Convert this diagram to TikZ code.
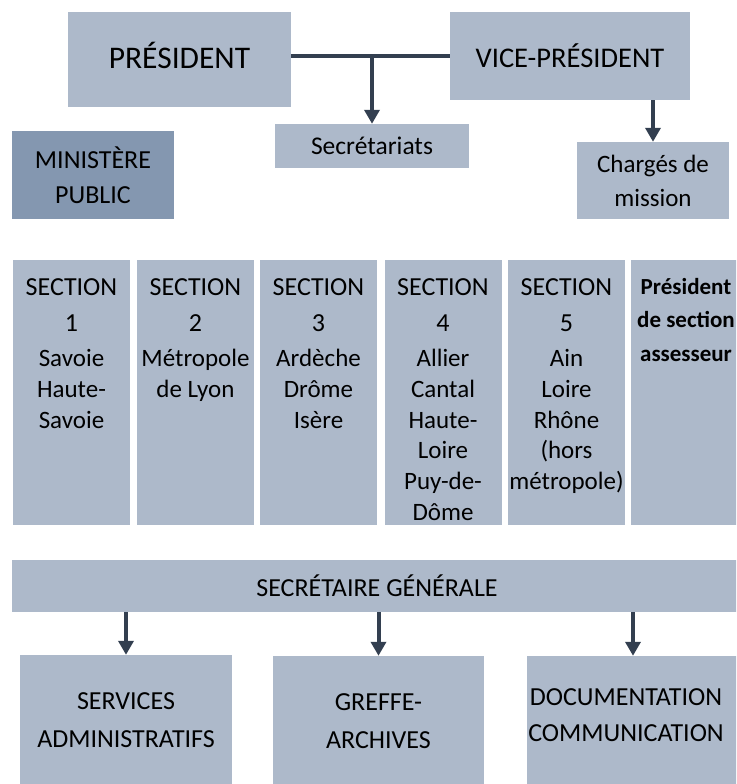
\documentclass[tikz,border=0pt]{standalone}
\usepackage{fontspec}
\setmainfont{Carlito}
\usepackage{xcolor}
\usetikzlibrary{calc, positioning, arrows.meta}
\definecolor{boxgray}{HTML}{ADB9CA}
\definecolor{boxdark}{HTML}{8497B0}
\definecolor{linkgray}{HTML}{333F50}

\begin{document}
\begin{tikzpicture}[x=1pt,y=-1pt,
                    main node/.style={rectangle,fill=boxgray,inner sep=0pt,align=center,text=black,font=\fontsize{26}{35}\selectfont},
                    link/.style={draw=linkgray,line width=4pt},
                    arrow link/.style={link,-{Triangle[width=15pt,length=14pt]}}]
\useasboundingbox (0,0) rectangle (736,784);
\clip (0,0) rectangle (736,784);

\node[main node,minimum width=223pt,minimum height=95pt,text depth=8pt,font=\fontsize{31.5}{36}\selectfont] (President) at (179.5,59.5) {PRÉSIDENT};
\node[main node,minimum width=240pt,minimum height=88pt,font=\fontsize{28.5}{36}\selectfont] (VicePresident) at (570,56) {VICE-PRÉSIDENT};
\node[main node,minimum width=194pt,minimum height=44pt,font=\fontsize{25.5}{34}\selectfont] (Secretariats) at (372,146) {Secrétariats};
\node[main node,minimum width=152pt,minimum height=77pt,font=\fontsize{25}{34}\selectfont] (Charges) at (653,180.5) {Chargés de\\mission};
\node[main node,fill=boxdark,minimum width=162pt,minimum height=88pt] (Ministere) at (93,175) {MINISTÈRE\\PUBLIC};

\coordinate (Junction) at (372,56);
\draw[link] (President.east |- Junction) -- (VicePresident.west |- Junction);
\draw[arrow link] (Junction) -- (Secretariats.north);
\draw[arrow link] (Charges.north |- VicePresident.south) -- (Charges.north);

 \foreach \n/\x/\txt in {1/71.5/{Savoie\\Haute-\\Savoie},
                         2/195.5/{Métropole\\de Lyon},
                         3/318.5/{Ardèche\\Drôme\\Isère},
                         4/443/{Allier\\Cantal\\Haute-\\Loire\\Puy-de-\\Dôme},
                         5/566.5/{Ain\\Loire\\Rhône\\(hors\\métropole)}}
       {\node[main node,minimum width=117pt,minimum height=265pt] (Section\n) at (\x,392.5) {};
        \node[anchor=north,inner sep=0pt,align=center,font=\fontsize{25}{30.8}\selectfont] (Section\n Text) at ($(Section\n.north)+(0,19)$)
           {\fontsize{26}{30.8}\selectfont SECTION\\[4.5pt]\fontsize{26}{30.8}\selectfont \n\\[4.5pt]\txt};}

\node[main node,minimum width=117pt,minimum height=265pt] (Section6) at (689.5,392.5) {};
\node[anchor=north,inner sep=0pt,align=center,font=\fontsize{23}{33.5}\selectfont\bfseries] (Section6Text) at (686,278) {Président\\de section\\assesseur};

\node[main node,minimum width=730pt,minimum height=52pt] (SecGen) at (377,586) {SECRÉTAIRE GÉNÉRALE};
\node[main node,minimum width=212pt,minimum height=130pt,font=\fontsize{26}{38}\selectfont] (Services) at (126,720) {SERVICES\\ADMINISTRATIFS};
\node[main node,minimum width=211pt,minimum height=130pt,font=\fontsize{26}{38}\selectfont] (Greffe) at (378.5,721) {GREFFE-\\ARCHIVES};
\node[main node,minimum width=212pt,minimum height=130pt] (Documentation) at (633,721) {};
\node[align=center,inner sep=0pt,font=\fontsize{26}{36}\selectfont] (DocumentationText) at (626,715) {DOCUMENTATION\\COMMUNICATION};

\draw[arrow link] (Services.north |- SecGen.south) -- (Services.north);
\draw[arrow link] (Greffe.north |- SecGen.south) -- (Greffe.north);
\draw[arrow link] (Documentation.north |- SecGen.south) -- (Documentation.north);

\end{tikzpicture}
\end{document}
